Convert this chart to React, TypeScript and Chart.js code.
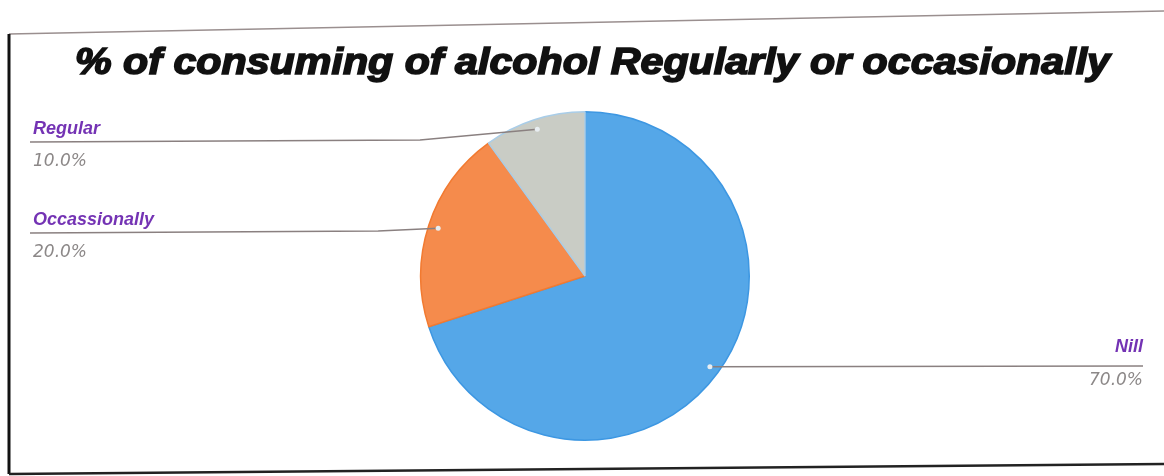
import React, { useEffect, useRef } from "react";
import { Chart, registerables } from "chart.js";

Chart.register(...registerables);

const TITLE = "% of consuming of alcohol Regularly or occasionally";
const categories = ["Nill", "Occassionally", "Regular"];
const values = [70, 20, 10];
const percentLabels = ["70.0%", "20.0%", "10.0%"];
const sliceColors = ["#55a7e8", "#f58b4c", "#c9ccc5"];

// label placement: side and baseline rows (layout only)
const labelSide = ["right", "left", "left"];
const labelLineY = [366, 233, 142];

const decorPlugin = {
  id: "decor",
  beforeDraw(chart: any) {
    const ctx = chart.ctx as CanvasRenderingContext2D;
    const W = chart.width;
    ctx.save();
    ctx.fillStyle = "#ffffff";
    ctx.fillRect(0, 0, W, chart.height);
    // frame
    ctx.strokeStyle = "#9a8f8f";
    ctx.lineWidth = 1.5;
    ctx.beginPath();
    ctx.moveTo(9, 34);
    ctx.lineTo(W, 11);
    ctx.stroke();
    ctx.strokeStyle = "#111";
    ctx.lineWidth = 3;
    ctx.beginPath();
    ctx.moveTo(9, 34);
    ctx.lineTo(9, 474);
    ctx.stroke();
    ctx.lineWidth = 2.5;
    ctx.strokeStyle = "#222";
    ctx.beginPath();
    ctx.moveTo(9, 474);
    ctx.lineTo(W, 464);
    ctx.stroke();
    // title
    ctx.font = "italic bold 36px 'Liberation Sans', Arial, sans-serif";
    ctx.fillStyle = "#111";
    ctx.strokeStyle = "#111";
    ctx.lineWidth = 1.6;
    ctx.textBaseline = "alphabetic";
    const tw = ctx.measureText(TITLE).width;
    const target = 1035;
    const sx = target / tw;
    ctx.translate(75, 74);
    ctx.scale(sx, 1);
    ctx.fillText(TITLE, 0, 0);
    ctx.strokeText(TITLE, 0, 0);
    ctx.restore();
  },
  afterDatasetsDraw(chart: any) {
    const ctx = chart.ctx as CanvasRenderingContext2D;
    const meta = chart.getDatasetMeta(0);
    ctx.save();
    meta.data.forEach((arc: any, i: number) => {
      const { x, y, startAngle, endAngle, outerRadius } = arc.getProps(
        ["x", "y", "startAngle", "endAngle", "outerRadius"],
        true
      );
      const mid = (startAngle + endAngle) / 2;
      const px = x + Math.cos(mid) * outerRadius * 0.94;
      const py = y + Math.sin(mid) * outerRadius * 0.94;
      const ly = labelLineY[i];
      ctx.strokeStyle = "#8a8080";
      ctx.lineWidth = 1.5;
      ctx.beginPath();
      if (labelSide[i] === "left") {
        ctx.moveTo(30, ly);
        ctx.lineTo(Math.min(px - 60, 420), ly - 2);
        ctx.lineTo(px, py);
      } else {
        ctx.moveTo(px, py);
        ctx.lineTo(1143, ly);
      }
      ctx.stroke();
      // dot
      ctx.fillStyle = "#e8eef2";
      ctx.beginPath();
      ctx.arc(px, py, 2.5, 0, Math.PI * 2);
      ctx.fill();
      // texts
      ctx.textBaseline = "alphabetic";
      ctx.font = "italic bold 18px 'Liberation Sans', Arial, sans-serif";
      ctx.fillStyle = "#7433b4";
      const pctFont = "italic 17px 'DejaVu Sans', sans-serif";
      if (labelSide[i] === "left") {
        ctx.textAlign = "left";
        ctx.fillText(categories[i], 33, ly - 8);
        ctx.font = pctFont;
        ctx.fillStyle = "#8c8888";
        ctx.fillText(percentLabels[i], 33, ly + 24);
      } else {
        ctx.textAlign = "right";
        ctx.fillText(categories[i], 1143, ly - 14);
        ctx.font = pctFont;
        ctx.fillStyle = "#8c8888";
        ctx.fillText(percentLabels[i], 1143, ly + 19);
      }
    });
    ctx.restore();
  },
};

export default function App() {
  const ref = useRef<HTMLCanvasElement | null>(null);
  useEffect(() => {
    if (!ref.current) return;
    const chart = new Chart(ref.current, {
      type: "pie",
      data: {
        labels: categories,
        datasets: [
          {
            data: values,
            backgroundColor: sliceColors,
            borderColor: ["#3d97e2", "#f27a30", "#a9cde8"],
            borderWidth: 1.5,
          },
        ],
      },
      options: {
        animation: false,
        responsive: false,
        layout: { padding: { top: 110, bottom: 34, left: 420, right: 414 } },
        plugins: {
          legend: { display: false },
          title: { display: false },
          tooltip: { enabled: false },
        },
      },
      plugins: [decorPlugin],
    });
    return () => chart.destroy();
  }, []);
  return (
    <div style={{ position: "fixed", left: 0, top: 0, width: 1164, height: 476, background: "#fff" }}>
      <canvas ref={ref} width={1164} height={476} style={{ width: 1164, height: 476 }} />
    </div>
  );
}
